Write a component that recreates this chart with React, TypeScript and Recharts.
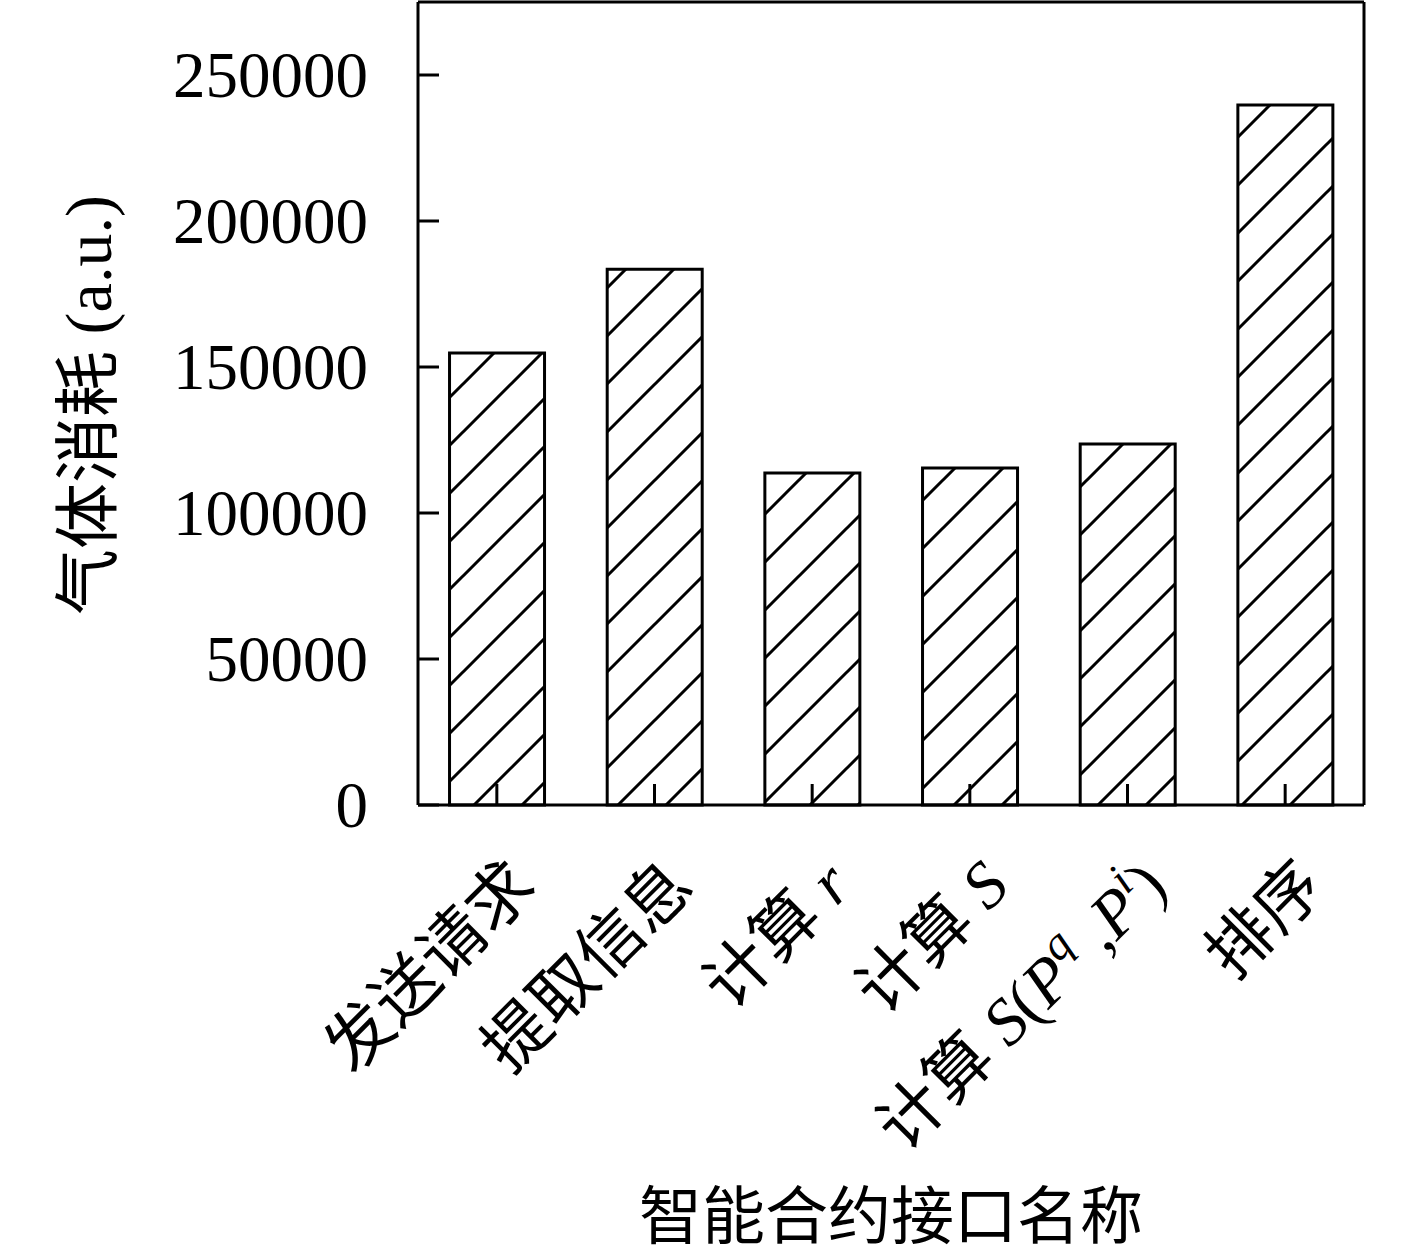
import { BarChart, Bar, XAxis, YAxis } from 'recharts'

// gas consumption per smart-contract interface
const categories = ['发送请求', '提取信息', '计算r', '计算S', '计算S(Pq,Pi)', '排序']
const gasValues = [154800, 183500, 113700, 115400, 123600, 239700]
const yTicks = [0, 50000, 100000, 150000, 200000, 250000]

const data = categories.map((name, i) => ({ name, gas: gasValues[i] }))

const FONT = "'Liberation Serif', 'Noto Sans CJK SC', serif"
const AXIS = { stroke: '#000', strokeWidth: 3 }

function labelContent(name: string) {
  const it = { fontStyle: 'italic' as const }
  if (name === '计算r') {
    return (
      <>
        计算<tspan {...it}> r</tspan>
      </>
    )
  }
  if (name === '计算S') {
    return (
      <>
        计算<tspan {...it}> S</tspan>
      </>
    )
  }
  if (name === '计算S(Pq,Pi)') {
    return (
      <>
        计算<tspan {...it}> S</tspan>(<tspan {...it}>P</tspan>
        <tspan dy={-26} fontSize={46} {...it}>q</tspan>
        <tspan dy={26}> ,</tspan>
        <tspan {...it}>P</tspan>
        <tspan dy={-26} fontSize={46} {...it}>i</tspan>
        <tspan dy={26}>)</tspan>
      </>
    )
  }
  return name
}

function YTick({ x, y, payload }: any) {
  return (
    <g>
      <line x1={x} x2={x + 21} y1={y} y2={y} stroke="#000" strokeWidth={3} />
      <text
        x={x - 50}
        y={y}
        dy="0.34em"
        textAnchor="end"
        fontSize={65}
        fontFamily={FONT}
        fill="#000"
      >
        {payload.value}
      </text>
    </g>
  )
}

function XTick({ x, y, payload }: any) {
  const ax = x + 42
  const ay = y + 84
  return (
    <g>
      <line x1={x} x2={x} y1={y} y2={y - 21} stroke="#000" strokeWidth={3} />
      <text
        x={ax}
        y={ay}
        textAnchor="end"
        transform={`rotate(-45 ${ax} ${ay})`}
        fontSize={66}
        fontFamily={FONT}
        fill="#000"
      >
        {labelContent(payload.value)}
      </text>
    </g>
  )
}

export default function App() {
  return (
    <div style={{ position: 'absolute', left: 0, top: 0, background: '#fff' }}>
      <svg width={0} height={0} style={{ position: 'absolute' }}>
        <defs>
          <pattern
            id="hatch"
            patternUnits="userSpaceOnUse"
            width={48}
            height={48}
            patternTransform="translate(31 0)"
          >
            <path
              d="M-12,12 L12,-12 M0,48 L48,0 M36,60 L60,36"
              stroke="#000"
              strokeWidth={3}
            />
          </pattern>
        </defs>
      </svg>
      <BarChart
        width={1417}
        height={1255}
        data={data}
        margin={{ top: 0, right: 0, bottom: 0, left: 0 }}
        barCategoryGap="20%"
      >
        <XAxis
          dataKey="name"
          height={450}
          interval={0}
          tickSize={0}
          tickMargin={0}
          axisLine={AXIS}
          tickLine={false}
          tick={<XTick />}
          label={{
            value: '智能合约接口名称',
            content: () => (
              <text
                x={891}
                y={1238}
                textAnchor="middle"
                fontSize={63}
                fontFamily={FONT}
                fill="#000"
              >
                智能合约接口名称
              </text>
            ),
          }}
        />
        <XAxis
          xAxisId="top"
          orientation="top"
          dataKey="name"
          height={2}
          tick={false}
          tickLine={false}
          axisLine={AXIS}
        />
        <YAxis
          width={418}
          domain={[0, 275000]}
          ticks={yTicks}
          interval={0}
          tickSize={0}
          tickMargin={0}
          axisLine={AXIS}
          tickLine={false}
          tick={<YTick />}
          label={{
            value: '气体消耗 (a.u.)',
            content: () => (
              <text
                x={88}
                y={405}
                textAnchor="middle"
                dominantBaseline="central"
                transform="rotate(-90 88 405)"
                fontSize={66}
                fontFamily={FONT}
                fill="#000"
              >
                气体消耗 (a.u.)
              </text>
            ),
          }}
        />
        <YAxis
          yAxisId="right"
          orientation="right"
          width={53}
          domain={[0, 275000]}
          tick={false}
          tickLine={false}
          axisLine={AXIS}
        />
        <Bar
          dataKey="gas"
          fill="url(#hatch)"
          stroke="#000"
          strokeWidth={3}
          isAnimationActive={false}
        />
      </BarChart>
    </div>
  )
}
